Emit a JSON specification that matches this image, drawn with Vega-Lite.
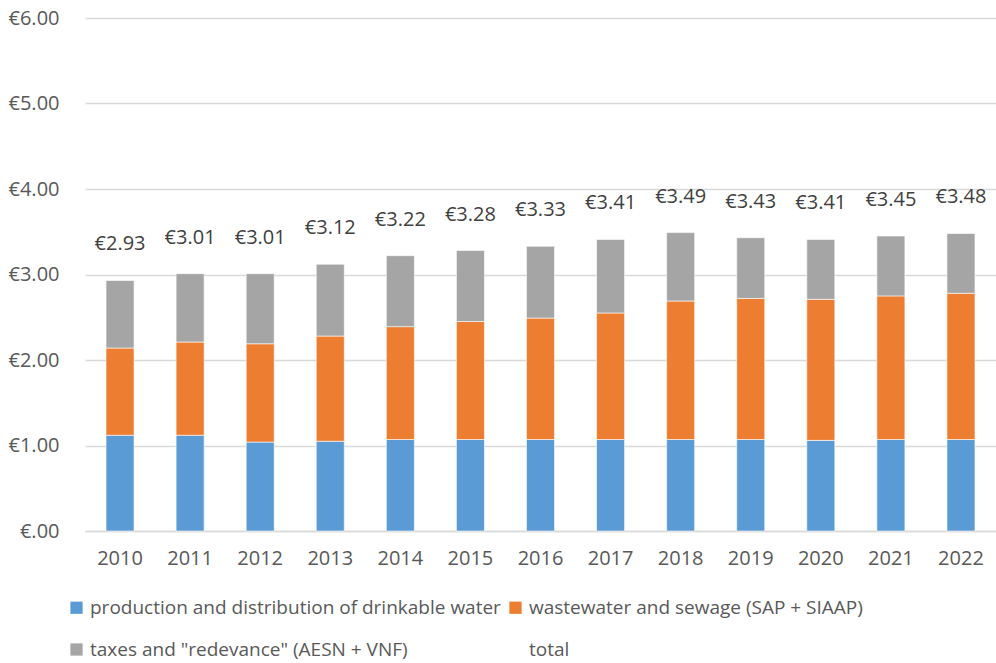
{
  "$schema": "https://vega.github.io/schema/vega-lite/v6.json",
  "autosize": {"type": "none"},
  "width": 911,
  "height": 513,
  "padding": {"left": 85, "top": 18, "right": 0, "bottom": 132},
  "background": "white",
  "config": {
    "view": {"stroke": null},
    "font": "Open Sans",
    "locale": {"number": {"currency": ["€", ""], "decimal": ".", "thousands": ",", "grouping": [3]}}
  },
  "datasets": {
    "parts": [
      {"year": "2010", "series": "production and distribution of drinkable water", "seq": 1, "value": 1.12},
      {"year": "2010", "series": "wastewater and sewage (SAP + SIAAP)", "seq": 2, "value": 1.02},
      {"year": "2010", "series": "taxes and \"redevance\" (AESN + VNF)", "seq": 3, "value": 0.79},
      {"year": "2011", "series": "production and distribution of drinkable water", "seq": 1, "value": 1.12},
      {"year": "2011", "series": "wastewater and sewage (SAP + SIAAP)", "seq": 2, "value": 1.09},
      {"year": "2011", "series": "taxes and \"redevance\" (AESN + VNF)", "seq": 3, "value": 0.80},
      {"year": "2012", "series": "production and distribution of drinkable water", "seq": 1, "value": 1.04},
      {"year": "2012", "series": "wastewater and sewage (SAP + SIAAP)", "seq": 2, "value": 1.15},
      {"year": "2012", "series": "taxes and \"redevance\" (AESN + VNF)", "seq": 3, "value": 0.82},
      {"year": "2013", "series": "production and distribution of drinkable water", "seq": 1, "value": 1.05},
      {"year": "2013", "series": "wastewater and sewage (SAP + SIAAP)", "seq": 2, "value": 1.23},
      {"year": "2013", "series": "taxes and \"redevance\" (AESN + VNF)", "seq": 3, "value": 0.84},
      {"year": "2014", "series": "production and distribution of drinkable water", "seq": 1, "value": 1.07},
      {"year": "2014", "series": "wastewater and sewage (SAP + SIAAP)", "seq": 2, "value": 1.32},
      {"year": "2014", "series": "taxes and \"redevance\" (AESN + VNF)", "seq": 3, "value": 0.83},
      {"year": "2015", "series": "production and distribution of drinkable water", "seq": 1, "value": 1.07},
      {"year": "2015", "series": "wastewater and sewage (SAP + SIAAP)", "seq": 2, "value": 1.38},
      {"year": "2015", "series": "taxes and \"redevance\" (AESN + VNF)", "seq": 3, "value": 0.83},
      {"year": "2016", "series": "production and distribution of drinkable water", "seq": 1, "value": 1.07},
      {"year": "2016", "series": "wastewater and sewage (SAP + SIAAP)", "seq": 2, "value": 1.42},
      {"year": "2016", "series": "taxes and \"redevance\" (AESN + VNF)", "seq": 3, "value": 0.84},
      {"year": "2017", "series": "production and distribution of drinkable water", "seq": 1, "value": 1.07},
      {"year": "2017", "series": "wastewater and sewage (SAP + SIAAP)", "seq": 2, "value": 1.48},
      {"year": "2017", "series": "taxes and \"redevance\" (AESN + VNF)", "seq": 3, "value": 0.86},
      {"year": "2018", "series": "production and distribution of drinkable water", "seq": 1, "value": 1.07},
      {"year": "2018", "series": "wastewater and sewage (SAP + SIAAP)", "seq": 2, "value": 1.62},
      {"year": "2018", "series": "taxes and \"redevance\" (AESN + VNF)", "seq": 3, "value": 0.80},
      {"year": "2019", "series": "production and distribution of drinkable water", "seq": 1, "value": 1.07},
      {"year": "2019", "series": "wastewater and sewage (SAP + SIAAP)", "seq": 2, "value": 1.65},
      {"year": "2019", "series": "taxes and \"redevance\" (AESN + VNF)", "seq": 3, "value": 0.71},
      {"year": "2020", "series": "production and distribution of drinkable water", "seq": 1, "value": 1.06},
      {"year": "2020", "series": "wastewater and sewage (SAP + SIAAP)", "seq": 2, "value": 1.65},
      {"year": "2020", "series": "taxes and \"redevance\" (AESN + VNF)", "seq": 3, "value": 0.70},
      {"year": "2021", "series": "production and distribution of drinkable water", "seq": 1, "value": 1.07},
      {"year": "2021", "series": "wastewater and sewage (SAP + SIAAP)", "seq": 2, "value": 1.68},
      {"year": "2021", "series": "taxes and \"redevance\" (AESN + VNF)", "seq": 3, "value": 0.70},
      {"year": "2022", "series": "production and distribution of drinkable water", "seq": 1, "value": 1.07},
      {"year": "2022", "series": "wastewater and sewage (SAP + SIAAP)", "seq": 2, "value": 1.71},
      {"year": "2022", "series": "taxes and \"redevance\" (AESN + VNF)", "seq": 3, "value": 0.70}
    ],
    "totals": [
      {"year": "2010", "total": 2.93},
      {"year": "2011", "total": 3.01},
      {"year": "2012", "total": 3.01},
      {"year": "2013", "total": 3.12},
      {"year": "2014", "total": 3.22},
      {"year": "2015", "total": 3.28},
      {"year": "2016", "total": 3.33},
      {"year": "2017", "total": 3.41},
      {"year": "2018", "total": 3.49},
      {"year": "2019", "total": 3.43},
      {"year": "2020", "total": 3.41},
      {"year": "2021", "total": 3.45},
      {"year": "2022", "total": 3.48}
    ]
  },
  "layer": [
    {
      "data": {"name": "parts"},
      "mark": {"type": "bar", "stroke": "white", "strokeWidth": 0.6},
      "encoding": {
        "x": {
          "field": "year", "type": "ordinal",
          "scale": {"paddingInner": 0.6, "paddingOuter": 0.3},
          "axis": {
            "title": null, "labelAngle": 0, "ticks": false,
            "domainColor": "#d9d9d9", "domainWidth": 1.5,
            "labelFontSize": 20, "labelColor": "#595959", "labelPadding": 17
          }
        },
        "y": {
          "field": "value", "type": "quantitative", "stack": "zero",
          "scale": {"domain": [0, 6], "nice": false},
          "axis": {
            "title": null, "values": [0, 1, 2, 3, 4, 5, 6],
            "domain": false, "ticks": false,
            "gridColor": "#d9d9d9", "gridWidth": 1.5,
            "labelFontSize": 20, "labelColor": "#595959", "labelPadding": 26,
            "labelExpr": "datum.value === 0 ? '€.00' : '€' + format(datum.value, '.2f')"
          }
        },
        "color": {
          "field": "series", "type": "nominal",
          "scale": {
            "domain": ["production and distribution of drinkable water", "wastewater and sewage (SAP + SIAAP)", "taxes and \"redevance\" (AESN + VNF)", "total"],
            "range": ["#5b9bd5", "#ed7d31", "#a5a5a5", "transparent"]
          },
          "legend": {
            "title": null, "orient": "none", "legendX": -18, "legendY": 580,
            "direction": "horizontal", "columns": 2,
            "symbolType": "square", "symbolSize": 150, "symbolStrokeWidth": 0,
            "labelFontSize": 19, "labelColor": "#595959", "labelLimit": 600,
            "rowPadding": 22, "columnPadding": 5, "labelOffset": 4
          }
        },
        "order": {"field": "seq", "type": "quantitative", "sort": "ascending"}
      }
    },
    {
      "data": {"name": "totals"},
      "mark": {"type": "text", "fontSize": 20, "color": "#404040", "dy": -36, "baseline": "middle"},
      "encoding": {
        "x": {"field": "year", "type": "ordinal"},
        "y": {"field": "total", "type": "quantitative"},
        "text": {"field": "total", "type": "quantitative", "format": "$.2f"}
      }
    }
  ]
}
